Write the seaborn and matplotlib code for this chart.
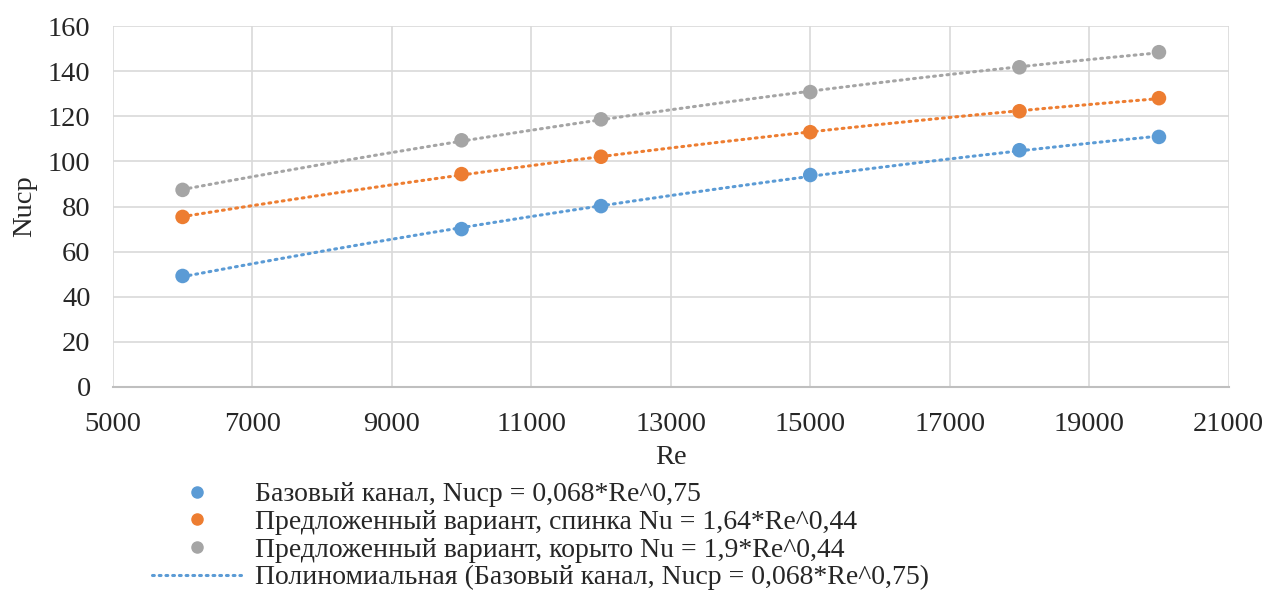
import numpy as np
import pandas as pd
import matplotlib
matplotlib.use('Agg')
import matplotlib.pyplot as plt
import seaborn as sns

# Данные
re_vals = [6000, 10000, 12000, 15000, 18000, 20000]
nu_base = [49.2, 70.0, 80.2, 94.0, 105.0, 110.9]
nu_back = [75.4, 94.4, 102.1, 113.0, 122.3, 128.1]
nu_trough = [87.4, 109.4, 118.7, 130.8, 141.8, 148.5]

labels = ['Базовый канал, Nucp = 0,068*Re^0,75',
          'Предложенный вариант, спинка Nu = 1,64*Re^0,44',
          'Предложенный вариант, корыто Nu = 1,9*Re^0,44']
colors = ['#5b9bd5', '#ed7d31', '#a5a5a5']
trend_label = 'Полиномиальная (Базовый канал, Nucp = 0,068*Re^0,75)'

sns.set_theme(style='white')
plt.rcParams['font.family'] = ['Liberation Serif', 'DejaVu Serif']

fig = plt.figure(figsize=(12.68, 5.97), dpi=100)
ax = fig.add_axes([0.089, 0.352, 0.880, 0.604])

dots = (0, (0.6, 1.6))
series = [nu_base, nu_back, nu_trough]
handles = []
for vals, lab, col in zip(series, labels, colors):
    # полиномиальная линия тренда (2-я степень)
    coef = np.polyfit(re_vals, vals, 2)
    xs = np.linspace(re_vals[0], re_vals[-1], 200)
    trend = pd.DataFrame({'Re': xs, 'Nu': np.polyval(coef, xs)})
    sns.lineplot(data=trend, x='Re', y='Nu', ax=ax, color=col,
                 linestyle=dots, linewidth=2.2,
                 dash_capstyle='round', zorder=2)
    df = pd.DataFrame({'Re': re_vals, 'Nu': vals})
    sns.scatterplot(data=df, x='Re', y='Nu', ax=ax, color=col, s=110,
                    edgecolor='none', zorder=3)
    handles.append(plt.Line2D([], [], marker='o', linestyle='none',
                              color=col, markersize=8, label=lab))

handles.append(plt.Line2D([], [], color=colors[0], linestyle=dots,
                          linewidth=2.2, dash_capstyle='round', label=trend_label))

ax.set_xlim(5000, 21000)
ax.set_ylim(0, 160)
ax.set_xticks(range(5000, 21001, 2000))
ax.set_yticks(range(0, 161, 20))
ax.grid(True, color='#d9d9d9', linewidth=1.2)
for s in ['top', 'right', 'left']:
    ax.spines[s].set_visible(False)
ax.spines['bottom'].set_color('#bfbfbf')
ax.spines['bottom'].set_linewidth(1.5)
ax.tick_params(axis='x', labelsize=20.5, length=0, pad=18)
ax.tick_params(axis='y', labelsize=20.5, length=0, pad=16)
ax.set_xlabel('Re', fontsize=20.5, labelpad=6)
ax.set_ylabel('Nucp', fontsize=20.5, labelpad=8)

fig.legend(handles=handles, loc='upper left', bbox_to_anchor=(0.12, 0.193),
           frameon=False, fontsize=20, handlelength=3.2, handletextpad=0.5,
           labelspacing=0.08, borderpad=0, borderaxespad=0)

fig.savefig('out.png', dpi=100)
